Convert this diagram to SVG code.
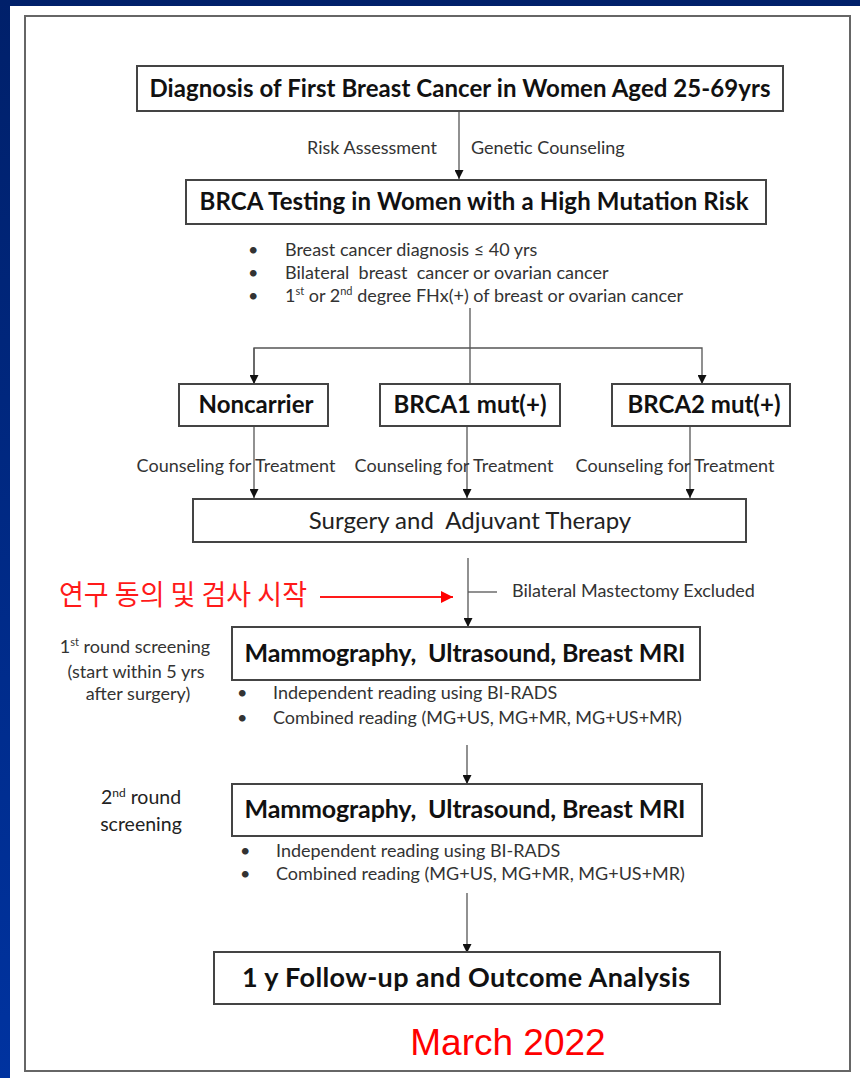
<svg xmlns="http://www.w3.org/2000/svg" width="860" height="1078" viewBox="0 0 860 1078">
<defs>
<linearGradient id="bg" x1="0" y1="0" x2="0" y2="1">
<stop offset="0" stop-color="#00206a"/>
<stop offset="1" stop-color="#0033a0"/>
</linearGradient>
<marker id="ah" viewBox="0 0 10 10" refX="10" refY="5" markerWidth="9" markerHeight="9" markerUnits="userSpaceOnUse" orient="auto">
<path d="M0,0 L10,5 L0,10 z" fill="#111"/>
</marker>
<marker id="rah" viewBox="0 0 10 10" refX="10" refY="5" markerWidth="12" markerHeight="12" markerUnits="userSpaceOnUse" orient="auto">
<path d="M0,0 L10,5 L0,10 z" fill="#ff0000"/>
</marker>
</defs>
<style>
.box{fill:#fff;stroke:#444;stroke-width:2}
.t{font-family:Lato,"Open Sans",sans-serif;fill:#222}
.b{font-weight:bold;fill:#111}
.s{font-size:18px;fill:#333}
.p{white-space:pre}
.c{stroke:#555;stroke-width:1.3;fill:none}
.k{font-family:"Noto Sans CJK KR",sans-serif;fill:#ff1a1a}
</style>
<rect x="0" y="0" width="860" height="1078" fill="url(#bg)"/>
<rect x="10" y="6" width="850" height="1072" fill="#fff"/>
<rect x="25" y="16" width="825" height="1055" fill="none" stroke="#666" stroke-width="2"/>

<g id="connectors">
<line class="c" x1="459" y1="112" x2="459" y2="179" marker-end="url(#ah)"/>
<line class="c" x1="470" y1="308" x2="470" y2="384"/>
<polyline class="c" points="254,393 254,348 702,348 702,384" marker-end="url(#ah)"/>
<line class="c" x1="254" y1="348" x2="254" y2="384" marker-end="url(#ah)"/>
<line class="c" x1="254" y1="426" x2="254" y2="498" marker-end="url(#ah)"/>
<line class="c" x1="467" y1="426" x2="467" y2="498" marker-end="url(#ah)"/>
<line class="c" x1="690" y1="426" x2="690" y2="498" marker-end="url(#ah)"/>
<line class="c" x1="468" y1="558" x2="468" y2="627" marker-end="url(#ah)"/>
<line class="c" x1="468" y1="592" x2="497" y2="592"/>
<line x1="320" y1="597" x2="453" y2="597" stroke="#ff1a1a" stroke-width="2" marker-end="url(#rah)"/>
<line class="c" x1="467" y1="745" x2="467" y2="784" marker-end="url(#ah)"/>
<line class="c" x1="467" y1="893" x2="467" y2="953" marker-end="url(#ah)"/>
</g>

<g id="n-diagnosis">
<rect class="box" x="137" y="66" width="646" height="45"/>
<text class="t b" x="460" y="97" font-size="24" text-anchor="middle" textLength="621">Diagnosis of First Breast Cancer in Women Aged 25-69yrs</text>
</g>
<g id="l-risk">
<text class="t s" x="437" y="154" text-anchor="end">Risk Assessment</text>
<text class="t s" x="471" y="154">Genetic Counseling</text>
</g>
<g id="n-brca-testing">
<rect class="box" x="186" y="180" width="580" height="44"/>
<text class="t b" x="474" y="210" font-size="24" text-anchor="middle" textLength="549">BRCA Testing in Women with a High Mutation Risk</text>
</g>
<g id="l-criteria" class="t s">
<text x="248" y="256">•</text><text class="p" x="285" y="256">Breast cancer diagnosis ≤ 40 yrs</text>
<text x="248" y="279">•</text><text class="p" x="285" y="279">Bilateral  breast  cancer or ovarian cancer</text>
<text x="248" y="302">•</text><text x="285" y="302">1<tspan font-size="11" dy="-7">st</tspan><tspan dy="7"> or 2</tspan><tspan font-size="11" dy="-7">nd</tspan><tspan dy="7"> degree FHx(+) of breast or ovarian cancer</tspan></text>
</g>
<g id="n-noncarrier">
<rect class="box" x="179" y="384" width="149" height="42"/>
<text class="t b" x="256" y="413" font-size="24" text-anchor="middle">Noncarrier</text>
</g>
<g id="n-brca1">
<rect class="box" x="380" y="384" width="180" height="42"/>
<text class="t b" x="470" y="413" font-size="24" text-anchor="middle">BRCA1 mut(+)</text>
</g>
<g id="n-brca2">
<rect class="box" x="612" y="384" width="178" height="42"/>
<text class="t b" x="704" y="413" font-size="24" text-anchor="middle">BRCA2 mut(+)</text>
</g>
<g id="l-counsel" class="t s">
<text x="236" y="472" text-anchor="middle">Counseling for Treatment</text>
<text x="454" y="472" text-anchor="middle">Counseling for Treatment</text>
<text x="675" y="472" text-anchor="middle">Counseling for Treatment</text>
</g>
<g id="n-surgery">
<rect class="box" x="193" y="499" width="553" height="43"/>
<text class="t p" x="470" y="529" font-size="24" text-anchor="middle">Surgery and  Adjuvant Therapy</text>
</g>
<g id="l-consent">
<text class="k" x="59" y="605" font-size="28" textLength="248" lengthAdjust="spacingAndGlyphs">연구 동의 및 검사 시작</text>
</g>
<g id="l-excluded">
<text class="t s" x="512" y="597">Bilateral Mastectomy Excluded</text>
</g>
<g id="l-round1" class="t s" text-anchor="middle">
<text x="135" y="653">1<tspan font-size="11" dy="-7">st</tspan><tspan dy="7"> round screening</tspan></text>
<text x="136" y="678">(start within 5 yrs</text>
<text x="138" y="700">after surgery)</text>
</g>
<g id="n-screen1">
<rect class="box" x="232" y="627" width="468" height="53"/>
<text class="t b p" x="465" y="662" font-size="25" text-anchor="middle" textLength="441">Mammography,  Ultrasound, Breast MRI</text>
</g>
<g id="l-reading1" class="t s">
<text x="237" y="699">•</text><text x="273" y="699">Independent reading using BI-RADS</text>
<text x="237" y="724">•</text><text x="273" y="724">Combined reading (MG+US, MG+MR, MG+US+MR)</text>
</g>
<g id="l-round2" class="t" font-size="19.5" fill="#333" text-anchor="middle">
<text x="141" y="804">2<tspan font-size="12" dy="-7">nd</tspan><tspan dy="7"> round</tspan></text>
<text x="141" y="831">screening</text>
</g>
<g id="n-screen2">
<rect class="box" x="232" y="784" width="470" height="52"/>
<text class="t b p" x="465" y="818" font-size="25" text-anchor="middle" textLength="441">Mammography,  Ultrasound, Breast MRI</text>
</g>
<g id="l-reading2" class="t s">
<text x="240" y="857">•</text><text x="276" y="857">Independent reading using BI-RADS</text>
<text x="240" y="880">•</text><text x="276" y="880">Combined reading (MG+US, MG+MR, MG+US+MR)</text>
</g>
<g id="n-followup">
<rect class="box" x="214" y="952" width="506" height="52"/>
<text class="t b" x="466" y="987" font-size="27" text-anchor="middle" textLength="448">1 y Follow-up and Outcome Analysis</text>
</g>
<g id="l-date">
<text x="508" y="1055" font-family="Liberation Sans,Arial,sans-serif" font-size="37" fill="#ff0000" text-anchor="middle">March 2022</text>
</g>
</svg>
